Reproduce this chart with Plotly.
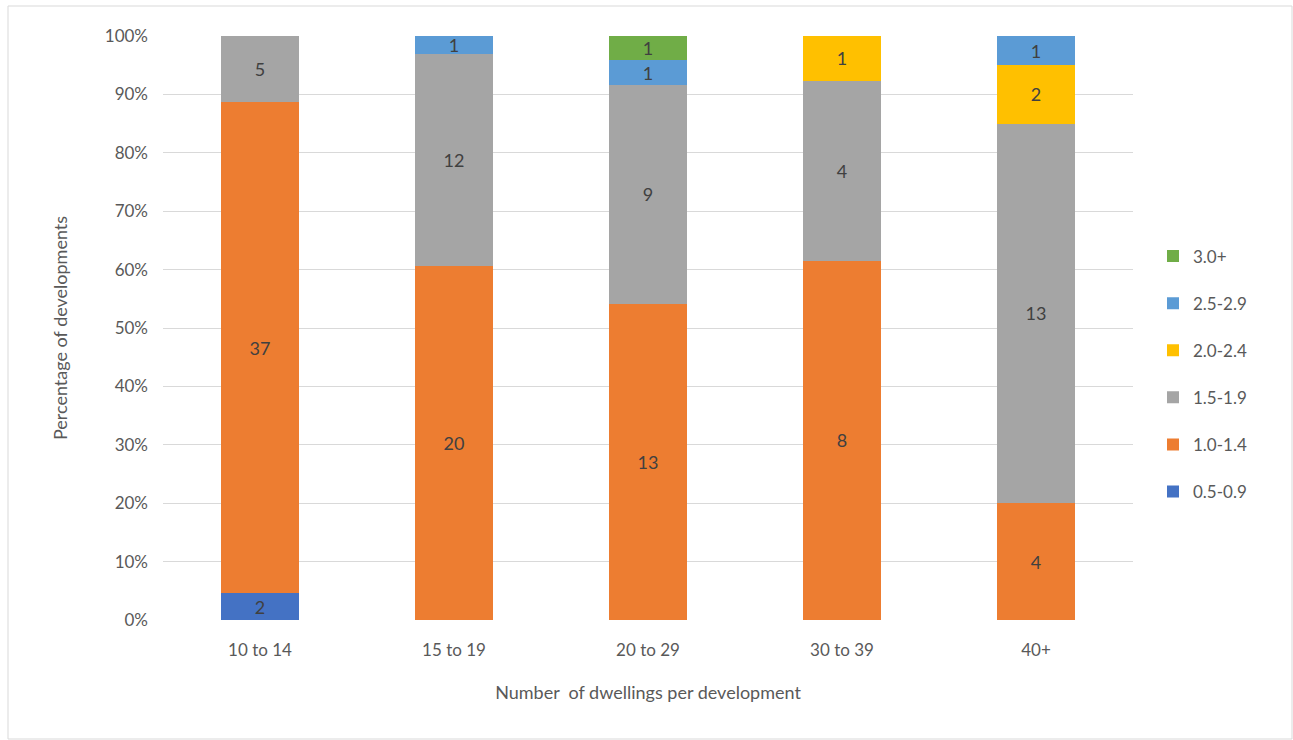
import plotly.graph_objects as go

categories = ["10 to 14", "15 to 19", "20 to 29", "30 to 39", "40+"]
series_names = ["0.5-0.9", "1.0-1.4", "1.5-1.9", "2.0-2.4", "2.5-2.9", "3.0+"]
s_05_09 = [2, 0, 0, 0, 0]
s_10_14 = [37, 20, 13, 8, 4]
s_15_19 = [5, 12, 9, 4, 13]
s_20_24 = [0, 0, 0, 1, 2]
s_25_29 = [0, 1, 1, 0, 1]
s_30p = [0, 0, 1, 0, 0]
series_values = [s_05_09, s_10_14, s_15_19, s_20_24, s_25_29, s_30p]
colors = ["#4472C4", "#ED7D31", "#A5A5A5", "#FFC000", "#5B9BD5", "#70AD47"]
y_ticks = [0, 10, 20, 30, 40, 50, 60, 70, 80, 90, 100]
y_tick_labels = [f"{t}%" for t in y_ticks]

FONT = "Lato, 'Open Sans', sans-serif"
fig = go.Figure()
for i, (name, vals, col) in enumerate(zip(series_names, series_values, colors)):
    fig.add_trace(go.Bar(
        x=categories, y=vals, name=name, legendgroup=name, legendrank=1000 - i,
        marker=dict(color=col, line=dict(width=0)),
        text=[str(v) if v else "" for v in vals],
        textposition="inside", insidetextanchor="middle", textangle=0,
        constraintext="none",
        textfont=dict(color="#404040", size=18, family=FONT),
        hoverinfo="skip",
    ))

W, H = 1293, 740
L, R, T, B = 163, 1133, 36, 620
pw, ph = R - L, B - T

fig.update_layout(
    width=W, height=H,
    barmode="stack", barnorm="percent", bargap=0.6,
    margin=dict(l=L, r=W - R, t=T, b=H - B),
    paper_bgcolor="white", plot_bgcolor="white",
    font=dict(family=FONT, color="#595959", size=17),
    xaxis=dict(
        title=dict(text="Number  of dwellings per development", font=dict(size=18, color="#595959"), standoff=27),
        tickfont=dict(size=17, color="#595959"), showgrid=False, zeroline=False, showline=False,
        ticks="", ticklabelstandoff=18,
    ),
    yaxis=dict(
        title=dict(text="Percentage of developments", font=dict(size=18, color="#595959"), standoff=32),
        range=[0, 100], tickvals=y_ticks, ticktext=y_tick_labels,
        tickfont=dict(size=17, color="#595959"),
        showgrid=True, gridcolor="#D9D9D9", gridwidth=1, zeroline=False, showline=False,
        ticks="", ticklabelstandoff=14,
    ),
    legend=dict(
        x=(1153 - L) / pw, xanchor="left", y=(B - 374) / ph, yanchor="middle",
        traceorder="grouped", tracegroupgap=22,
        font=dict(size=17, color="#595959"), itemwidth=30,
    ),
    shapes=[dict(
        type="rect", xref="paper", yref="paper",
        x0=(8 - L) / pw, x1=(1292 - L) / pw, y0=(B - 739) / ph, y1=(B - 6) / ph,
        line=dict(color="#D9D9D9", width=1), fillcolor="rgba(0,0,0,0)", layer="below",
    )],
)

fig.write_html("out.html")
